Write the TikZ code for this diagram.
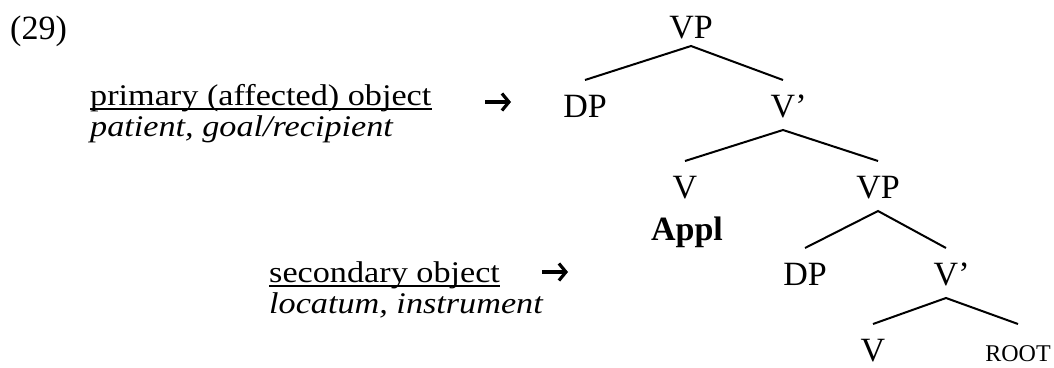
\documentclass[tikz,border=0pt]{standalone}
\usepackage{fontspec}
\setmainfont{Liberation Serif}
\newfontfamily\glossfont[FakeStretch=1.14]{Liberation Serif}
\usetikzlibrary{arrows.meta}
\begin{document}
\begin{tikzpicture}[x=1pt,y=-1pt,
  every node/.style={inner sep=0pt, font=\fontsize{34}{40}\selectfont},
  cat/.style={anchor=base, text height=24pt, text depth=0pt, outer ysep=13pt},
  branch/.style={line width=2pt},
  gloss/.style={anchor=base west, font=\glossfont\fontsize{30}{36}\selectfont},
  pointer/.style={line width=3.2pt, -{Straight Barb[length=7pt, width=17pt, line width=3.2pt]}},
  ul/.style={line width=1.5pt}]
\useasboundingbox (0,0) rectangle (1054,367);

% example number
\node[anchor=base west] (num) at (10,39) {(29)};

% object labels with their thematic roles
\node[gloss] (prim) at (90,105) {primary (affected) object};
\node[gloss] (primroles) at (90,136) {\itshape patient, goal/recipient};
\node[gloss] (sec) at (269,282) {secondary object};
\node[gloss] (secroles) at (269,313) {\itshape locatum, instrument};
\draw[ul] ([yshift=-4pt]prim.base west) -- ([yshift=-4pt]prim.base east);
\draw[ul] ([yshift=-4pt]sec.base west) -- ([yshift=-4pt]sec.base east);

% arrows pointing from the labels into the tree
\coordinate (a1s) at (485,102);
\coordinate (a1e) at (511,102);
\coordinate (a2s) at (542,272);
\coordinate (a2e) at (568,272);
\draw[pointer] (a1s) -- (a1e);
\draw[pointer] (a2s) -- (a2e);

% tree
\node[cat] (vp1)  at (691,38)  {VP};
\node[cat] (dp1)  at (585,117) {DP};
\node[cat] (vb1)  at (783,117) {V\rlap{’}};
\node[cat] (v2)   at (685,198) {V};
\node[anchor=base, font=\fontsize{34}{40}\selectfont\bfseries] (appl) at (687,240) {Appl};
\node[cat] (vp2)  at (878,198) {VP};
\node[cat] (dp2)  at (805,285) {DP};
\node[cat] (vb2)  at (946,285) {V\rlap{’}};
\node[cat] (v3)   at (873,361) {V};
\node[cat, font=\fontsize{24}{28}\selectfont] (root) at (1018,361) {ROOT};

\draw[branch] (dp1.north) -- ([yshift=5pt]vp1.south) -- (vb1.north);
\draw[branch] (v2.north) -- (vb1.south) -- (vp2.north);
\draw[branch] (dp2.north) -- (vp2.south) -- (vb2.north);
\draw[branch] (v3.north) -- (vb2.south) -- (root.north);
\end{tikzpicture}
\end{document}
